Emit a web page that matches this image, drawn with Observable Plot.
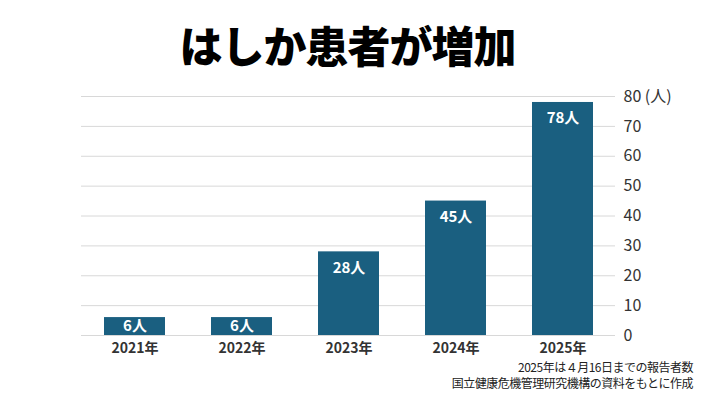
<!DOCTYPE html>
<html><head><meta charset="utf-8">
<script src="https://cdn.jsdelivr.net/npm/d3@7"></script>
<script src="https://cdn.jsdelivr.net/npm/@observablehq/plot@0.6"></script>
<style>
body{margin:0;background:#fff;font-family:"Noto Sans CJK JP",sans-serif;}
#wrap{position:relative;width:705px;height:397px;overflow:hidden;}
#title{position:absolute;left:0;top:14px;width:695px;text-align:center;font-size:43px;font-weight:900;color:#000;letter-spacing:-1px;line-height:60px;}
#chart{position:absolute;left:0;top:76px;}
#cap{position:absolute;right:12px;top:359px;text-align:right;font-size:12px;line-height:16px;color:#222;letter-spacing:-0.5px;}
</style></head><body>
<div id="wrap">
<div id="title">はしか患者が増加</div>
<div id="chart"></div>
<div id="cap">2025年は４月16日までの報告者数<br>国立健康危機管理研究機構の資料をもとに作成</div>
</div>
<script>
const years = ["2021年","2022年","2023年","2024年","2025年"];
const cases = [6, 6, 28, 45, 78];
const yTicks = [0,10,20,30,40,50,60,70,80];
const unit = "人";

const data = years.map((y,i)=>({year:y, value:cases[i]}));
const font = '"Noto Sans CJK JP", sans-serif';
const chart = Plot.plot({
  width: 705, height: 280,
  marginTop: 20, marginBottom: 21, marginLeft: 81, marginRight: 90,
  style: {fontFamily: font, background: "#fff"},
  x: {domain: years, paddingInner: 0.43, paddingOuter: 0.21, label: null},
  y: {domain: [0, 80], label: null},
  marks: [
    Plot.gridY(yTicks, {stroke: "#d8d8d8", strokeOpacity: 1}),
    Plot.barY(data, {x: "year", y: "value", fill: "#1a5f80"}),
    Plot.text(data.filter(d => d.value >= 20), {x: "year", y: "value", text: d => d.value + unit, dy: 16, fill: "#fff", fontSize: 15, fontWeight: "bold"}),
    Plot.text(data.filter(d => d.value < 20), {x: "year", y: "value", text: d => d.value + unit, dy: 9, fill: "#fff", fontSize: 15, fontWeight: "bold"}),
    Plot.axisX({tickSize: 0, tickPadding: 8, fontSize: 14, fontWeight: "bold", fill: "#333"}),
    Plot.axisY(yTicks, {anchor: "right", tickSize: 0, tickPadding: 8, textAnchor: "start", fontSize: 16, fill: "#333",
      tickFormat: d => d === 80 ? "80 (" + unit + ")" : String(d)})
  ]
});
document.getElementById("chart").appendChild(chart);
</script>
</body></html>
